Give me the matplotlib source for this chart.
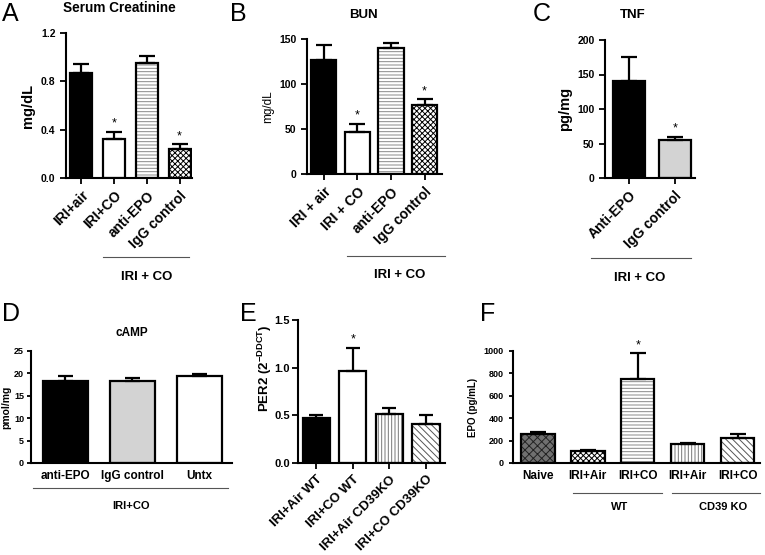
import matplotlib
matplotlib.use("Agg")
import matplotlib.pyplot as plt
import numpy as np

plt.rcParams['font.family'] = ['Liberation Sans', 'DejaVu Sans']
plt.rcParams['font.weight'] = 'bold'
plt.rcParams['mathtext.fontset'] = 'custom'
plt.rcParams['mathtext.rm'] = 'Liberation Sans'
plt.rcParams['mathtext.bf'] = 'Liberation Sans:bold'
plt.rcParams['hatch.linewidth'] = 0.7

# --- data ---
a_labels = ['IRI+air', 'IRI+CO', 'anti-EPO', 'IgG control']
a_vals = [0.87, 0.32, 0.95, 0.24]
a_err = [0.07, 0.06, 0.06, 0.04]
a_star = [False, True, False, True]

b_labels = ['IRI + air', 'IRI + CO', 'anti-EPO', 'IgG control']
b_vals = [127, 47, 140, 77]
b_err = [16, 9, 6, 6]
b_star = [False, True, False, True]

c_labels = ['Anti-EPO', 'IgG control']
c_vals = [141, 55]
c_err = [34, 5]
c_star = [False, True]

d_labels = ['anti-EPO', 'IgG control', 'Untx']
d_vals = [18.2, 18.4, 19.5]
d_err = [1.3, 0.6, 0.4]

e_labels = ['IRI+Air WT', 'IRI+CO WT', 'IRI+Air CD39KO', 'IRI+CO CD39KO']
e_vals = [0.47, 0.965, 0.51, 0.41]
e_err = [0.03, 0.245, 0.07, 0.09]
e_star = [False, True, False, False]

f_labels = ['Naive', 'IRI+Air', 'IRI+CO', 'IRI+Air', 'IRI+CO']
f_vals = [258, 110, 751, 172, 220]
f_err = [15, 9, 228, 6, 41]
f_star = [False, False, True, False, False]

# fill styles: (facecolor, hatch, hatchcolor)
BLACK = ('black', None, None)
WHITE = ('white', None, None)
HLINE = ('white', '-----', '#888888')
CHECK = ('white', 'xxxxxx', 'black')
LGRAY = ('#d3d3d3', None, None)
VLINE = ('white', '|||||', '#777777')
DIAG = ('white', '\\\\\\\\\\', '#555555')
NAIVE = ('#707070', 'xxxx', '#222222')

fig = plt.figure(figsize=(7.65, 5.55), dpi=100)
W, H = 765, 555


def make_ax(l, r, t, b):
    return fig.add_axes([l / W, 1 - b / H, (r - l) / W, (b - t) / H])


def bars(ax, vals, err, styles, width, stars=None, lw=1.6, cap=6):
    x = np.arange(len(vals))
    for xi, v, (fc, hatch, hc) in zip(x, vals, styles):
        if hatch:
            ax.bar(xi, v, width, color=fc, edgecolor=hc, hatch=hatch, linewidth=0)
            ax.bar(xi, v, width, fill=False, edgecolor='black', linewidth=lw)
        else:
            ax.bar(xi, v, width, color=fc, edgecolor='black', linewidth=lw)
    ax.errorbar(x, vals, yerr=[np.zeros(len(vals)), err], fmt='none',
                ecolor='black', elinewidth=lw, capsize=cap, capthick=lw, zorder=1)
    if stars:
        top = ax.get_ylim()[1]
        for xi, v, e, s in zip(x, vals, err, stars):
            if s:
                ax.text(xi, v + e + top * 0.015, '*', ha='center', va='bottom',
                        fontsize=9, fontweight='normal')
    ax.spines['top'].set_visible(False)
    ax.spines['right'].set_visible(False)
    ax.spines['left'].set_linewidth(1.5)
    ax.spines['bottom'].set_linewidth(1.5)
    ax.tick_params(width=1.3, length=4)
    return x


def bracket(ax, x0, x1, y, text, ty, tx, fs=9.5):
    ax.plot([x0, x1], [y, y], transform=ax.transAxes, color='#555555',
            linewidth=0.8, clip_on=False)
    ax.text(tx, ty, text, transform=ax.transAxes, ha='center', va='center',
            fontsize=fs, fontweight='bold')


# ---- A ----
ax = make_ax(66, 192, 33, 178)
ax.set_ylim(0, 1.2)
ax.set_xlim(-0.46, 3.38)
x = bars(ax, a_vals, a_err, [BLACK, WHITE, HLINE, CHECK], 0.67, a_star)
ax.set_yticks([0, 0.4, 0.8, 1.2])
ax.set_yticklabels(['0.0', '0.4', '0.8', '1.2'], fontsize=7.5)
ax.set_xticks(x)
ax.set_xticklabels(a_labels, rotation=45, ha='right', rotation_mode='anchor', fontsize=10)
ax.set_ylabel('mg/dL', fontsize=10.5, fontweight='bold')
ax.text(0.42, 1.17, 'Serum Creatinine', transform=ax.transAxes, ha='center',
        va='center', fontsize=9.8)
bracket(ax, 0.294, 0.976, -0.545, 'IRI + CO', -0.683, 0.643)

# ---- B ----
ax = make_ax(307, 442, 39, 174)
ax.set_ylim(0, 150)
ax.set_xlim(-0.5, 3.52)
x = bars(ax, b_vals, b_err, [BLACK, WHITE, HLINE, CHECK], 0.75, b_star)
ax.set_yticks([0, 50, 100, 150])
ax.tick_params(axis='y', labelsize=7.5)
ax.set_xticks(x)
ax.set_xticklabels(b_labels, rotation=45, ha='right', rotation_mode='anchor', fontsize=10)
ax.set_ylabel('mg/dL', fontsize=8.5, fontweight='normal')
ax.text(0.415, 1.178, 'BUN', transform=ax.transAxes, ha='center', va='center', fontsize=9.5)
bracket(ax, 0.296, 1.02, -0.607, 'IRI + CO', -0.748, 0.689)

# ---- C ----
ax = make_ax(605, 695, 40, 178)
ax.set_ylim(0, 200)
ax.set_xlim(-0.52, 1.44)
x = bars(ax, c_vals, c_err, [BLACK, LGRAY], 0.7, c_star)
ax.set_yticks([0, 50, 100, 150, 200])
ax.tick_params(axis='y', labelsize=7.5)
ax.set_xticks(x)
ax.set_xticklabels(c_labels, rotation=45, ha='right', rotation_mode='anchor', fontsize=10)
ax.set_ylabel('pg/mg', fontsize=10.5, fontweight='bold')
ax.text(0.31, 1.18, 'TNF', transform=ax.transAxes, ha='center', va='center', fontsize=9.5)
bracket(ax, -0.156, 0.956, -0.58, 'IRI + CO', -0.725, 0.39)

# ---- D ----
ax = make_ax(31, 232, 351, 463)
ax.set_ylim(0, 25)
ax.set_xlim(-0.51, 2.49)
x = bars(ax, d_vals, d_err, [BLACK, LGRAY, WHITE], 0.675, cap=5.4)
ax.set_yticks([0, 5, 10, 15, 20, 25])
ax.tick_params(axis='y', labelsize=6.5, length=3, pad=2)
ax.set_xticks(x)
ax.set_xticklabels(d_labels, fontsize=8.5)
ax.tick_params(axis='x', length=0, pad=5)
ax.set_ylabel('pmol/mg', fontsize=7.5, fontweight='bold', labelpad=2)
ax.text(0.5, 1.16, 'cAMP', transform=ax.transAxes, ha='center', va='center', fontsize=8.5)
bracket(ax, 0.01, 0.98, -0.223, 'IRI+CO', -0.384, 0.5, fs=8)

# ---- E ----
ax = make_ax(298, 445, 320, 463)
ax.set_ylim(0, 1.5)
ax.set_xlim(-0.5, 3.52)
x = bars(ax, e_vals, e_err, [BLACK, WHITE, VLINE, DIAG], 0.74, e_star, cap=4.8)
ax.set_yticks([0, 0.5, 1.0, 1.5])
ax.set_yticklabels(['0.0', '0.5', '1.0', '1.5'], fontsize=8)
ax.tick_params(axis='y', pad=2)
ax.set_xticks(x)
ax.set_xticklabels(e_labels, rotation=45, ha='right', rotation_mode='anchor', fontsize=9.5)
ax.set_ylabel(r'PER2 (2$^{\mathbf{-DDCT}}$)', fontsize=9.5, fontweight='bold')
ax.yaxis.set_label_coords(-0.165, 0.66)

# ---- F ----
ax = make_ax(513, 760, 351, 463)
ax.set_ylim(0, 1000)
ax.set_xlim(-0.5, 4.45)
x = bars(ax, f_vals, f_err, [NAIVE, CHECK, HLINE, VLINE, DIAG], 0.67, f_star)
ax.set_yticks([0, 200, 400, 600, 800, 1000])
ax.tick_params(axis='y', labelsize=6.5, length=3)
ax.set_xticks(x)
ax.set_xticklabels(f_labels, fontsize=8.5)
ax.tick_params(axis='x', length=0, pad=5)
ax.set_ylabel('EPO (pg/mL)', fontsize=7, fontweight='bold')
bracket(ax, 0.243, 0.603, -0.268, 'WT', -0.393, 0.433, fs=8)
bracket(ax, 0.644, 1.0, -0.268, 'CD39 KO', -0.393, 0.85, fs=8)

# panel letters
for letter, px, py in [('A', 2, 14), ('B', 230, 14), ('C', 533, 14),
                       ('D', 2, 314), ('E', 240, 314), ('F', 480, 314)]:
    fig.text(px / W, 1 - py / H, letter, fontsize=18, fontweight='normal',
             ha='left', va='center')

fig.savefig('out.png', dpi=100)
